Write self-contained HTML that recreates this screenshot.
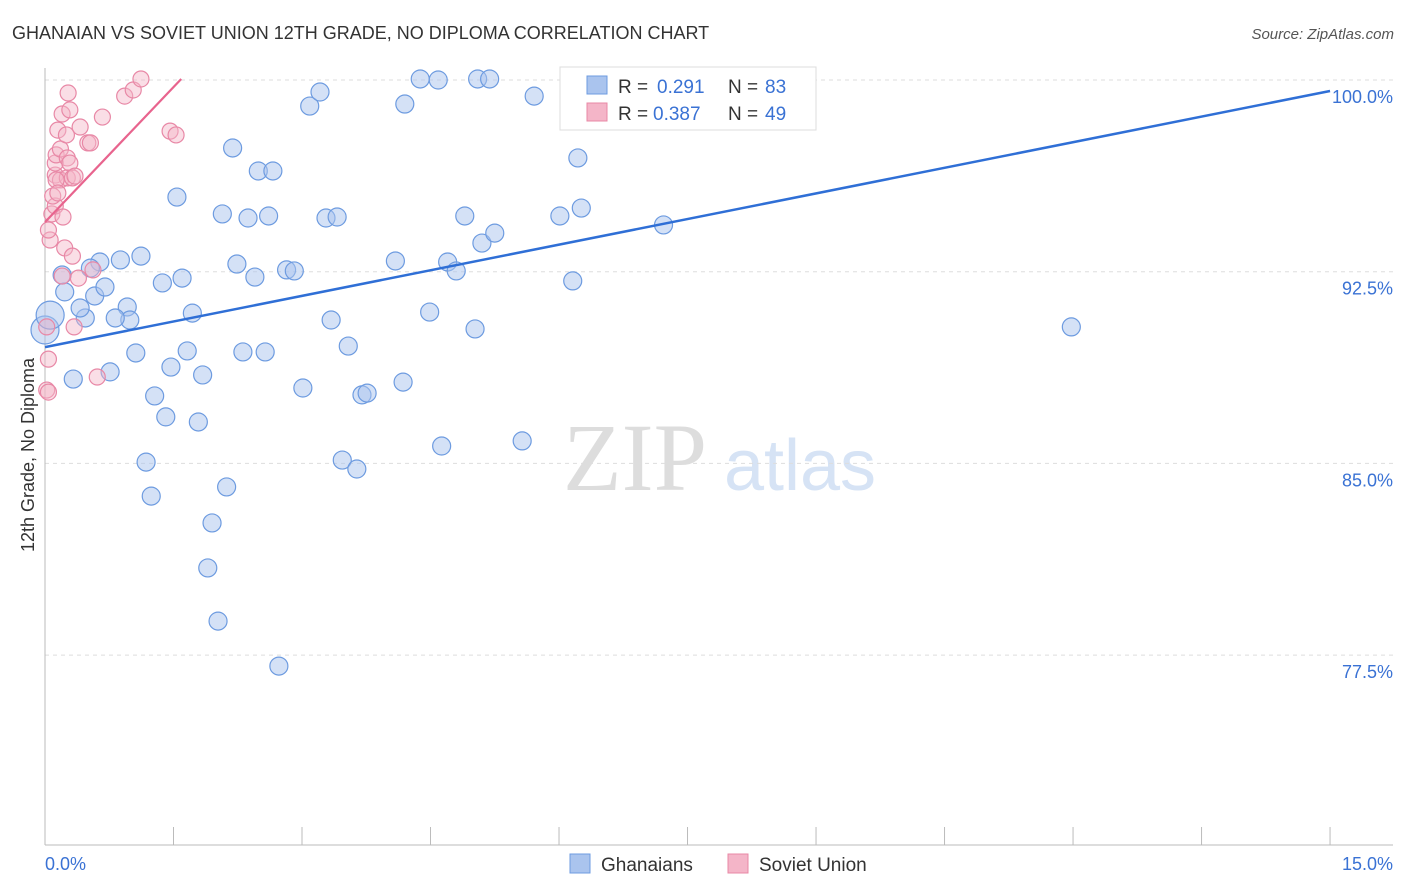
<!DOCTYPE html>
<html><head><meta charset="utf-8"><style>
body{margin:0;background:#fff;font-family:"Liberation Sans",sans-serif}
svg{display:block}
</style></head><body>
<svg id="c" width="1406" height="892" xmlns="http://www.w3.org/2000/svg">
<text x="12" y="39" font-size="18" fill="#333">GHANAIAN VS SOVIET UNION 12TH GRADE, NO DIPLOMA CORRELATION CHART</text>
<text x="1394" y="39" font-size="15" fill="#555" text-anchor="end" font-style="italic">Source: ZipAtlas.com</text>
<text transform="translate(34,455) rotate(-90)" font-size="18" fill="#333" text-anchor="middle">12th Grade, No Diploma</text>
<g><text x="635" y="490" font-size="96" fill="#ddd" text-anchor="middle" font-family="Liberation Serif,serif">ZIP</text><text x="800" y="490" font-size="72" fill="#d6e3f5" text-anchor="middle">atlas</text></g>
<g id="grid"></g><g id="axes"></g><g id="pts"></g><g id="trend"></g>
<g>
<rect x="560" y="67" width="256" height="63" fill="#fff" stroke="#ddd"/>
<rect x="587" y="76" width="20" height="18" fill="#aac4ee" stroke="#6d9be0"/>
<text x="618" y="93" font-size="19" fill="#333">R =</text><text x="657" y="93" font-size="19" fill="#3a72d4">0.291</text>
<text x="728" y="93" font-size="19" fill="#333">N =</text><text x="765" y="93" font-size="19" fill="#3a72d4">83</text>
<rect x="587" y="103" width="20" height="18" fill="#f4b5c8" stroke="#e888a6"/>
<text x="618" y="120" font-size="19" fill="#333">R =</text><text x="653" y="120" font-size="19" fill="#3a72d4">0.387</text>
<text x="728" y="120" font-size="19" fill="#333">N =</text><text x="765" y="120" font-size="19" fill="#3a72d4">49</text>
</g>
<g>
<rect x="570" y="854" width="20" height="19" fill="#aac4ee" stroke="#6d9be0"/>
<text x="601" y="871" font-size="19" fill="#333">Ghanaians</text>
<rect x="728" y="854" width="20" height="19" fill="#f4b5c8" stroke="#e888a6"/>
<text x="759" y="871" font-size="19" fill="#333">Soviet Union</text>
</g>
<text x="45" y="870" font-size="18" fill="#3a72d4">0.0%</text>
<text x="1393" y="870" font-size="18" fill="#3a72d4" text-anchor="end">15.0%</text>
</svg>
<script>
const yTicks=[100,92.5,85,77.5];
const yTickLabels=["100.0%","92.5%","85.0%","77.5%"];
const ghX=[0.00,0.06,0.23,0.20,0.33,0.47,0.41,0.58,0.64,0.53,0.70,0.76,0.88,0.96,0.99,0.82,1.06,1.12,1.18,1.24,1.28,1.37,1.41,1.47,1.54,1.60,1.66,1.72,1.79,1.84,1.90,1.95,2.02,2.07,2.12,2.19,2.24,2.31,2.37,2.45,2.49,2.57,2.61,2.66,2.73,2.82,2.91,3.01,3.09,3.21,3.28,3.34,3.41,3.47,3.54,3.64,3.70,3.76,4.09,4.18,4.20,4.38,4.49,4.59,4.63,4.70,4.80,4.90,5.02,5.05,5.10,5.19,5.25,5.57,5.71,6.01,6.16,6.22,6.26,6.91,7.22,11.98];
const ghY=[90.22,90.80,91.71,92.37,88.30,90.69,91.08,91.55,92.88,92.64,91.90,88.58,92.96,91.12,90.61,90.69,89.32,93.11,85.05,83.72,87.64,92.06,86.82,88.77,95.42,92.25,89.40,90.88,86.62,88.46,80.91,82.67,78.83,94.76,84.08,97.34,92.80,89.36,94.60,92.29,96.44,89.36,94.68,96.44,77.07,92.57,92.53,87.95,98.98,99.53,94.60,90.61,94.64,85.13,89.59,84.78,87.68,87.75,92.92,88.18,99.06,100.04,90.92,100.00,85.68,92.88,92.53,94.68,90.26,100.04,93.62,100.04,94.01,85.88,99.37,94.68,92.14,96.95,94.99,100.04,94.33,90.34];
const suX=[0.02,0.04,0.02,0.04,0.06,0.04,0.08,0.12,0.09,0.12,0.12,0.13,0.15,0.18,0.20,0.18,0.20,0.21,0.23,0.25,0.26,0.26,0.27,0.29,0.29,0.32,0.32,0.34,0.35,0.39,0.41,0.50,0.53,0.56,0.61,0.67,0.93,1.03,1.12,1.46,1.53,0.13,0.15];
const suY=[90.34,89.08,87.87,87.79,93.74,94.13,94.76,95.07,95.46,96.28,96.75,97.07,98.04,97.30,92.33,96.09,98.67,94.64,93.43,97.85,96.17,96.95,99.49,98.83,96.75,93.11,96.17,90.34,96.24,92.25,98.16,97.54,97.54,92.57,88.38,98.55,99.37,99.61,100.04,98.00,97.85,96.09,95.58];
const ghTrend=[[0,89.55],[15,99.57]];
const suTrend=[[0,94.44],[1.59,100.04]];
const NS="http://www.w3.org/2000/svg";
const X=v=>45+v*85.67, Y=v=>80+(100-v)*25.56;
function mk(tag,parent,attrs){const e=document.createElementNS(NS,tag);for(const k in attrs)e.setAttribute(k,attrs[k]);document.getElementById(parent).appendChild(e);return e;}
yTicks.forEach((t,i)=>{
 const l=mk('line','grid',{x1:45,x2:1393,y1:Y(t),y2:Y(t),stroke:'#ddd','stroke-dasharray':'4,4'});
 
 
 const tx=mk('text','grid',{x:1393,y:Y(t)+23,'font-size':18,fill:'#3a72d4','text-anchor':'end'});
 tx.textContent=yTickLabels[i];
 
 
});
const ax=mk('line','axes',{x1:45,x2:45,y1:68,y2:845,stroke:'#bbb'});


const bx=mk('line','axes',{x1:45,x2:1393,y1:845,y2:845,stroke:'#bbb'});


for(let i=0;i<=10;i++){const t=mk('line','axes',{x1:X(i*1.5),x2:X(i*1.5),y1:845,y2:827,stroke:'#bbb'});
 
 }
ghX.forEach((x,i)=>{const c=mk('circle','pts',{cx:X(x),cy:Y(ghY[i]),r:i<2?14:9,fill:'rgba(170,196,238,0.5)',stroke:'#6d9be0','stroke-width':1.2});
 
 });
suX.forEach((x,i)=>{const c=mk('circle','pts',{cx:X(x),cy:Y(suY[i]),r:8,fill:'rgba(244,181,200,0.45)',stroke:'#e888a6','stroke-width':1.2});
 
 });
const t1=mk('line','trend',{x1:X(ghTrend[0][0]),y1:Y(ghTrend[0][1]),x2:X(ghTrend[1][0]),y2:Y(ghTrend[1][1]),stroke:'#2f6fd6','stroke-width':2.5});


const t2=mk('line','trend',{x1:X(suTrend[0][0]),y1:Y(suTrend[0][1]),x2:X(suTrend[1][0]),y2:Y(suTrend[1][1]),stroke:'#e8648e','stroke-width':2.2});


</script>
</body></html>
